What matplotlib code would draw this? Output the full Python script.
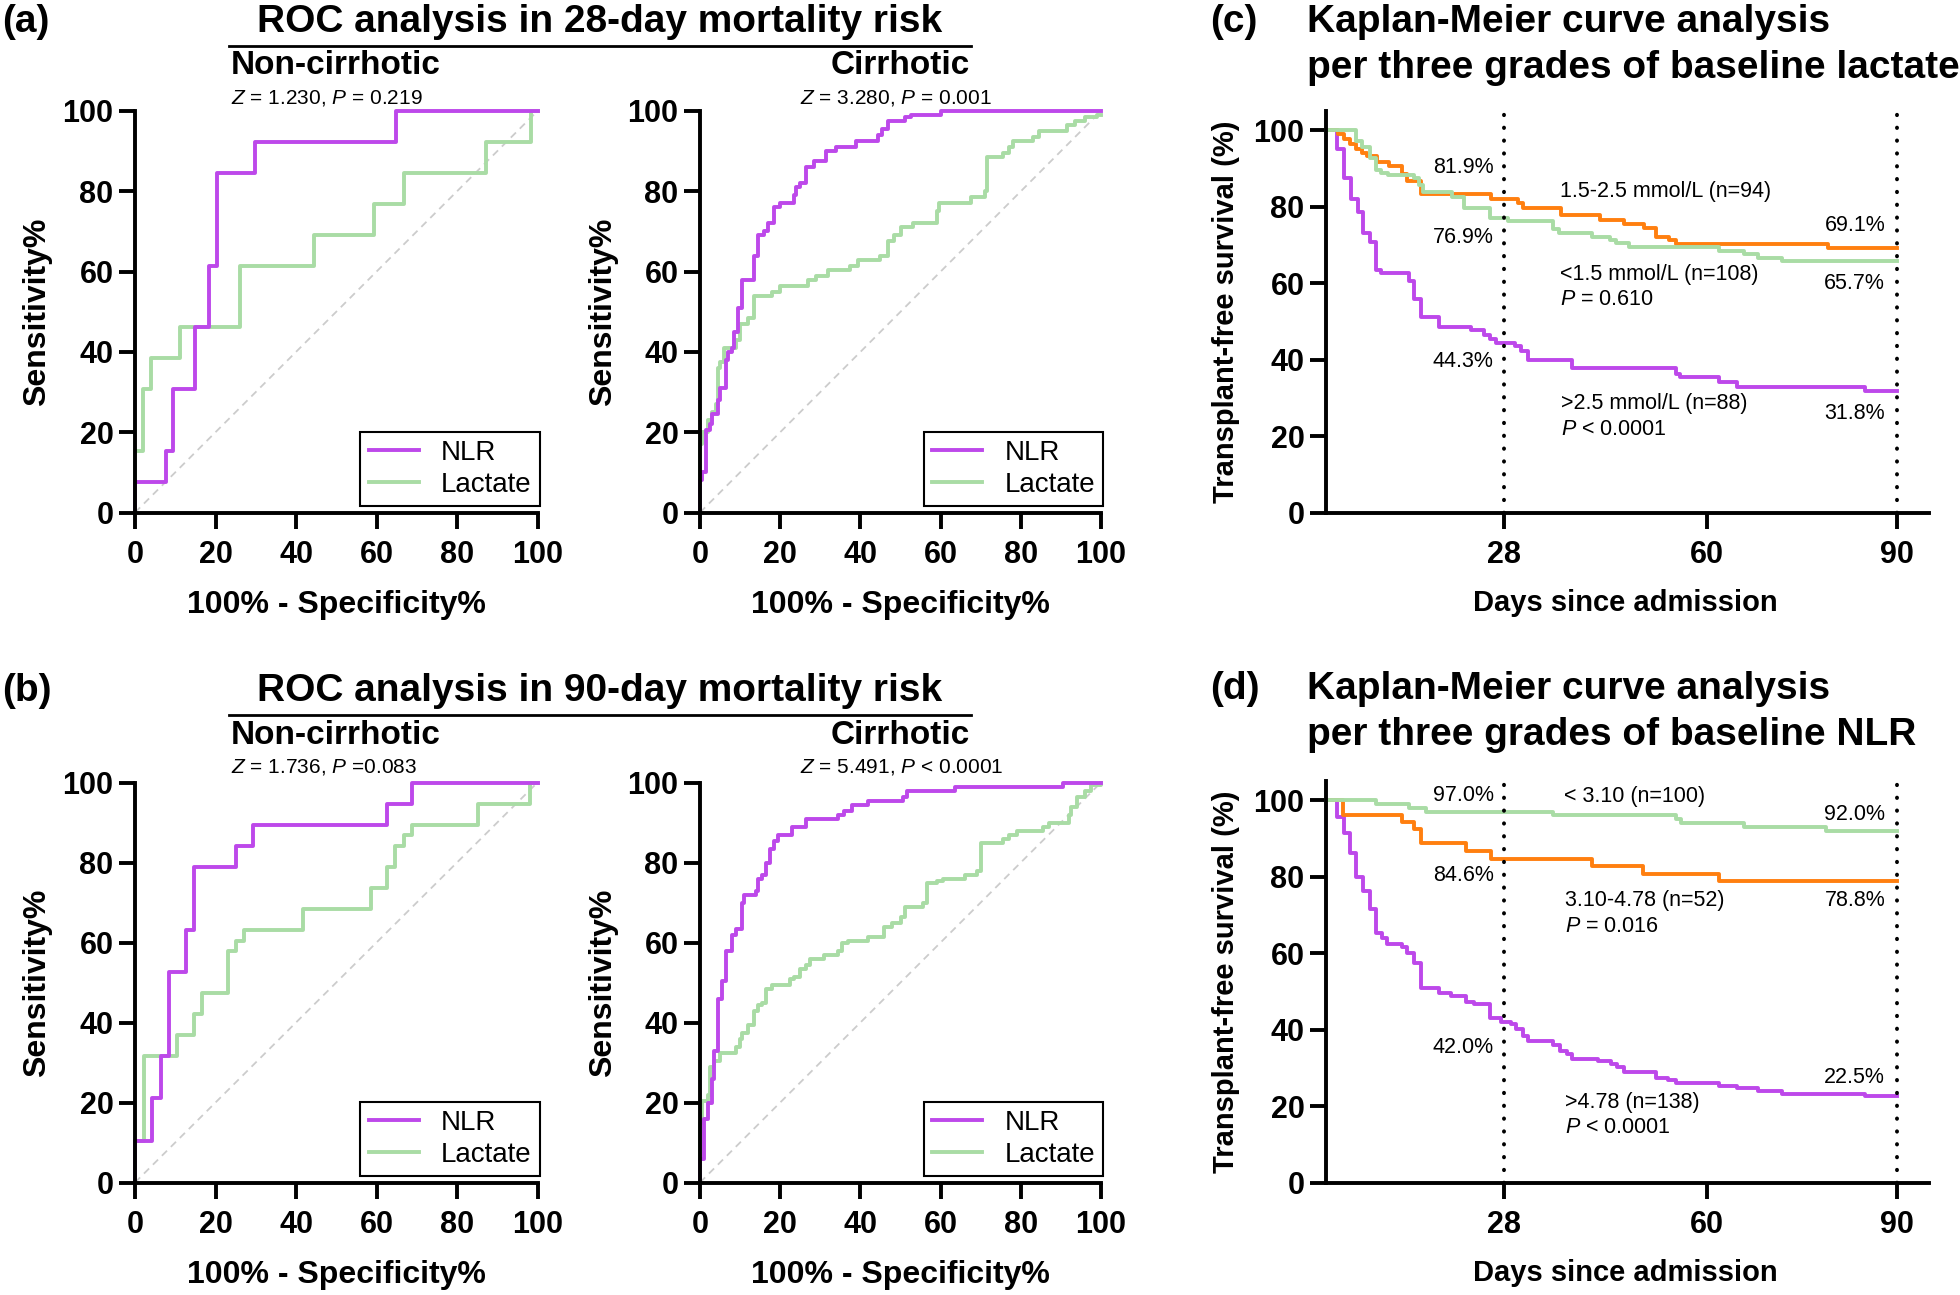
import matplotlib
matplotlib.use('Agg')
import matplotlib.pyplot as plt
from matplotlib.lines import Line2D

plt.rcParams['font.family'] = ['Liberation Sans', 'DejaVu Sans']
plt.rcParams['mathtext.fontset'] = 'custom'
plt.rcParams['mathtext.rm'] = 'Liberation Sans'
plt.rcParams['mathtext.it'] = 'Liberation Sans:italic'

PURPLE = '#BD48EA'
GREEN = '#A9DCA5'
ORANGE = '#FF7F0F'

# ---- ROC data (100% - specificity, sensitivity), step points ----
# (a) 28-day, non-cirrhotic
a_nc_nlr_fpr = [0, 0, 7.6, 9.5, 14.9, 18.5, 20.4, 29.8, 64.9, 100]
a_nc_nlr_tpr = [0, 7.7, 15.4, 30.8, 46.2, 61.5, 84.6, 92.3, 100, 100]
a_nc_lac_fpr = [0, 0, 2, 4, 11.3, 26.2, 44.4, 59.4, 66.8, 87.1, 98.4, 100]
a_nc_lac_tpr = [0, 15.4, 30.8, 38.5, 46.2, 61.5, 69.2, 76.9, 84.6, 92.3, 100, 100]
# (a) 28-day, cirrhotic
a_c_nlr_fpr = [0, 0, 0.5, 1.5, 2.5, 3, 4.5, 5, 6.5, 7, 8, 8.5, 9.5, 10.5, 13.5, 14.5, 16, 17,
               18.5, 20, 23.5, 24, 25, 26.5, 28.5, 31.5, 34, 39, 44.5, 45.5, 47, 51, 52.5, 60, 100]
a_c_nlr_tpr = [0, 8, 10, 20.5, 22, 24.5, 28, 31, 38, 40, 41, 45, 51, 58, 64, 69, 70, 72,
               76, 77, 79, 81, 82, 86, 87.5, 90, 91, 92.5, 94, 95.5, 97.5, 98.5, 99, 100, 100]
a_c_lac_fpr = [0, 0, 0.5, 2, 3, 4, 4.5, 5, 6, 9, 10, 12, 13.5, 18, 20, 27, 29, 32, 37.5, 39.5,
               45, 47, 48.5, 50, 53, 59, 59.5, 67.5, 71, 71.5, 75.5, 77, 78, 83, 84.5, 91.5,
               93.5, 96, 99, 100]
a_c_lac_tpr = [0, 17, 20, 23, 25, 27, 36, 37.5, 41, 43, 47, 48.5, 54, 55, 56.5, 58, 59, 60.5,
               61.5, 63, 64, 67.5, 69, 71, 72, 75, 77, 78.5, 80, 88.5, 89.5, 91, 92.5, 93.5,
               95, 96.5, 97.5, 98.5, 99, 99]
# (b) 90-day, non-cirrhotic
b_nc_nlr_fpr = [0, 0, 4.3, 6.4, 8.4, 12.6, 14.7, 25.2, 29.3, 62.7, 68.9, 100]
b_nc_nlr_tpr = [0, 10.5, 21.1, 31.6, 52.6, 63.2, 78.9, 84.2, 89.5, 94.7, 100, 100]
b_nc_lac_fpr = [0, 0, 2.2, 10.4, 14.7, 16.7, 23.1, 25.2, 27, 41.8, 58.7, 62.7, 64.7, 66.8,
                68.9, 85.3, 98.2, 100]
b_nc_lac_tpr = [0, 10.5, 31.6, 36.8, 42.1, 47.4, 57.9, 60.5, 63.2, 68.4, 73.7, 78.9, 84.2,
                86.8, 89.5, 94.7, 100, 100]
# (b) 90-day, cirrhotic
b_c_nlr_fpr = [0, 0, 1, 2, 3, 3.5, 4.5, 5.5, 6.5, 8, 9, 10.5, 11, 14, 14.5, 15.5, 16.5, 17.5,
               18.5, 19.5, 23, 26.5, 34.5, 36, 38, 42, 50.5, 51.5, 63.5, 90.5, 100]
b_c_nlr_tpr = [0, 6, 16, 20, 26, 33, 46, 50.5, 58, 62, 63.5, 70, 72, 73, 76, 77, 80, 83.5,
               85.5, 87, 89, 91, 92, 93, 94.5, 95.5, 96.5, 98, 99, 100, 100]
b_c_lac_fpr = [0, 0, 0.5, 2, 2.5, 3.5, 5, 9, 10, 10.5, 12, 13.5, 14.5, 15.5, 16.5, 18, 22.5,
               23.5, 25, 26.5, 27.5, 31, 34.5, 35.5, 37, 42, 46, 48, 50, 51, 55.5, 56.5, 59,
               60.5, 66, 69, 70, 75.5, 77, 79, 85.5, 87, 92, 92.5, 94, 96, 97.5, 100]
b_c_lac_tpr = [0, 15, 20.5, 22, 29, 30.5, 32.5, 34, 36, 37.5, 39.5, 43, 44.5, 45, 48.5, 49.5,
               51, 51.5, 53.5, 54.5, 56, 57, 58, 60, 60.5, 61.5, 64, 65, 66.5, 69, 70, 75,
               75.5, 76, 77, 78, 85, 86, 87, 88, 89, 90, 92, 94, 96.5, 98, 99.5, 100]

# ---- Kaplan-Meier data (days, survival %) ----
# (c) lactate grades
c_high_t = [0, 1.8, 2.8, 4.0, 5.0, 5.9, 6.9, 7.8, 8.6, 13.0, 13.8, 14.9, 17.8, 22.8, 24.9,
            25.8, 26.8, 29.8, 30.7, 31.9, 38.8, 55.1, 55.8, 61.9, 64.8, 84.9, 90]
c_high_s = [100, 95, 87.4, 82, 78.6, 73, 70.7, 63.5, 62.6, 60.4, 55.9, 51.1, 48.6, 47.7, 46.4,
            45.3, 44.4, 43.5, 42.2, 39.9, 37.7, 36.3, 35.3, 34, 32.9, 31.8, 31.8]
c_mid_t = [0, 1.9, 2.9, 3.8, 4.7, 5.7, 6.5, 8.0, 9.9, 11.9, 12.8, 14.9, 26.0, 30.2, 31.0,
           37.1, 43.2, 47.0, 50.1, 52.0, 54.1, 55.1, 79.1, 90]
c_mid_s = [100, 98.9, 97.6, 96.4, 95, 94, 93.2, 91.6, 90.5, 88.6, 86.8, 83.2, 81.9, 80.8,
           79.7, 77.7, 76.6, 75.5, 74.3, 72.1, 71.2, 70.2, 69.1, 69.1]
c_low_t = [0, 4.7, 5.7, 7.0, 7.8, 8.6, 9.7, 13.8, 14.7, 15.3, 19.9, 21.8, 25.8, 28.7, 35.8,
           36.7, 41.9, 44.7, 45.7, 47.8, 61.9, 65.8, 68.1, 71.9, 90]
c_low_s = [100, 97, 95.5, 92.8, 89.6, 88.7, 88.3, 87.4, 85.6, 83.8, 82.6, 79.5, 76.9, 76.1,
           74.1, 73.2, 72.1, 71.2, 70.5, 69.5, 68.5, 67.6, 66.5, 65.7, 65.7]
# (d) NLR grades
d_low_t = [0, 7.8, 13.0, 15.8, 35.8, 55.2, 56.0, 65.9, 78.8, 90]
d_low_s = [100, 99.1, 98, 97, 96.2, 95, 94, 93.1, 92, 92]
d_mid_t = [0, 2.7, 11.9, 13.8, 14.9, 22.0, 26.0, 41.9, 49.9, 61.9, 90]
d_mid_s = [100, 96.2, 94.3, 92.5, 88.7, 86.8, 84.6, 82.7, 80.8, 78.8, 78.8]
d_high_t = [0, 1.8, 2.8, 3.8, 4.8, 5.9, 6.9, 7.8, 8.8, 9.6, 11.9, 12.8, 13.8, 14.9, 17.8,
            19.7, 22.0, 23.3, 25.8, 27.5, 29.1, 30.0, 31.0, 31.9, 35.8, 36.8, 37.9, 38.8,
            42.8, 44.9, 45.9, 47.0, 52.0, 53.9, 55.2, 61.9, 64.8, 68.1, 71.9, 84.9, 90]
d_high_s = [100, 95.5, 91.5, 86.3, 79.9, 76.3, 71.6, 65.2, 64, 62.5, 61.6, 60.1, 57.4, 50.9,
            49.6, 48.8, 47.3, 46.6, 42.9, 42.0, 41.5, 40.2, 38.4, 37.1, 36, 34.4, 33.5, 32.4,
            31.7, 31, 30.1, 29, 27.4, 26.8, 26.1, 25.3, 24.6, 23.8, 23.2, 22.5, 22.5]

W, H = 1960, 1295
fig = plt.figure(figsize=(W / 100, H / 100), dpi=100)


def rect(left, top, right, bottom):
    return [left / W, 1 - bottom / H, (right - left) / W, (bottom - top) / H]


def ftext(x, y, s, **kw):
    fig.text(x / W, 1 - y / H, s, va='center', **kw)


def style_axes(ax, labelsize=22):
    for side in ['top', 'right']:
        ax.spines[side].set_visible(False)
    for side in ['left', 'bottom']:
        ax.spines[side].set_linewidth(2.8)
    ax.tick_params(direction='out', length=11.5, width=2.8, labelsize=labelsize, pad=4)
    ax.tick_params(axis='x', pad=8)
    for lbl in ax.get_xticklabels() + ax.get_yticklabels():
        lbl.set_fontweight('bold')


def roc_panel(ax, nlr_x, nlr_y, lac_x, lac_y):
    ax.plot([0, 100], [0, 100], ls=(0, (4, 3)), color='#CCCCCC', lw=1.3)
    lac, = ax.plot(lac_x, lac_y, drawstyle='steps-post', color=GREEN, lw=2.8, clip_on=False)
    nlr, = ax.plot(nlr_x, nlr_y, drawstyle='steps-post', color=PURPLE, lw=2.8, clip_on=False)
    ax.set_xlim(0, 100)
    ax.set_ylim(0, 100)
    ax.set_xticks(range(0, 101, 20))
    ax.set_yticks(range(0, 101, 20))
    style_axes(ax)
    ax.set_xlabel('100% - Specificity%', fontsize=23, fontweight='bold')
    ax.set_ylabel('Sensitivity%', fontsize=23, fontweight='bold')
    ax.xaxis.set_label_coords(0.5, -0.193)
    ax.yaxis.set_label_coords(-0.205, 0.5)
    leg = ax.legend([nlr, lac], ['NLR', 'Lactate'], loc='lower right',
                    bbox_to_anchor=(1.006, 0.016), fancybox=False, edgecolor='black',
                    framealpha=1, fontsize=20, handlelength=1.8, handletextpad=0.8,
                    labelspacing=0.2, borderpad=0.3, borderaxespad=0)
    leg.get_frame().set_linewidth(1.5)


def km_panel(ax, curves, notes):
    for t, s, c in curves:
        ax.plot(t, s, drawstyle='steps-post', color=c, lw=2.8, clip_on=False)
    for day in (28, 90):
        ax.axvline(day, color='black', ls=(0, (0.1, 3.2)), lw=2.8, dash_capstyle='round')
    ax.set_xlim(0, 95)
    ax.set_ylim(0, 105)
    ax.set_xticks([28, 60, 90])
    ax.set_yticks(range(0, 101, 20))
    style_axes(ax)
    ax.set_xlabel('Days since admission', fontsize=21, fontweight='bold')
    ax.set_ylabel('Transplant-free survival (%)', fontsize=21, fontweight='bold')
    ax.xaxis.set_label_coords(0.496, -0.19)
    ax.yaxis.set_label_coords(-0.142, 0.5)
    for x, y, s, ha in notes:
        ax.text(x, y, s, ha=ha, va='center', fontsize=15.5)


# ---- ROC panels ----
ax = fig.add_axes(rect(135, 111, 537.5, 512.5))
roc_panel(ax, a_nc_nlr_fpr, a_nc_nlr_tpr, a_nc_lac_fpr, a_nc_lac_tpr)
ax = fig.add_axes(rect(700, 111, 1101, 512.5))
roc_panel(ax, a_c_nlr_fpr, a_c_nlr_tpr, a_c_lac_fpr, a_c_lac_tpr)
ax = fig.add_axes(rect(135, 782.5, 537.5, 1182.5))
roc_panel(ax, b_nc_nlr_fpr, b_nc_nlr_tpr, b_nc_lac_fpr, b_nc_lac_tpr)
ax = fig.add_axes(rect(700, 782.5, 1101, 1182.5))
roc_panel(ax, b_c_nlr_fpr, b_c_nlr_tpr, b_c_lac_fpr, b_c_lac_tpr)

# headers of the ROC panels
for lab, title, y0, z1, z2 in [
        ('(a)', 'ROC analysis in 28-day mortality risk', 22,
         r'$\it{Z}$ = 1.230, $\it{P}$ = 0.219', r'$\it{Z}$ = 3.280, $\it{P}$ = 0.001'),
        ('(b)', 'ROC analysis in 90-day mortality risk', 691,
         r'$\it{Z}$ = 1.736, $\it{P}$ =0.083', r'$\it{Z}$ = 5.491, $\it{P}$ < 0.0001')]:
    ftext(2, y0, lab, fontsize=28, fontweight='bold')
    ftext(600, y0, title, ha='center', fontsize=28, fontweight='bold')
    fig.add_artist(Line2D([229 / W, 971 / W], [1 - (y0 + 24) / H] * 2, color='black', lw=2))
    ftext(231, y0 + 44, 'Non-cirrhotic', fontsize=24, fontweight='bold')
    ftext(970, y0 + 44, 'Cirrhotic', ha='right', fontsize=24, fontweight='bold')
    ftext(231, y0 + 76, z1, fontsize=15)
    ftext(800, y0 + 76, z2, fontsize=15)

# ---- KM panels ----
ax = fig.add_axes(rect(1326, 110.9, 1929, 512.5))
km_panel(ax, [(c_high_t, c_high_s, PURPLE), (c_mid_t, c_mid_s, ORANGE), (c_low_t, c_low_s, GREEN)],
         [(26.4, 90.1, '81.9%', 'right'), (26.4, 71.8, '76.9%', 'right'),
          (26.4, 39.6, '44.3%', 'right'),
          (36.9, 84.0, '1.5-2.5 mmol/L (n=94)', 'left'),
          (36.9, 62.3, '<1.5 mmol/L (n=108)', 'left'),
          (36.9, 55.6, r'$\it{P}$ = 0.610', 'left'),
          (37.1, 28.6, '>2.5 mmol/L (n=88)', 'left'),
          (37.1, 21.8, r'$\it{P}$ < 0.0001', 'left'),
          (88.1, 75.0, '69.1%', 'right'), (88.1, 59.9, '65.7%', 'right'),
          (88.1, 25.9, '31.8%', 'right')])
ax = fig.add_axes(rect(1326, 781, 1929, 1182.5))
km_panel(ax, [(d_high_t, d_high_s, PURPLE), (d_mid_t, d_mid_s, ORANGE), (d_low_t, d_low_s, GREEN)],
         [(26.4, 101.2, '97.0%', 'right'), (26.4, 80.4, '84.6%', 'right'),
          (26.4, 35.4, '42.0%', 'right'),
          (37.5, 100.9, '< 3.10 (n=100)', 'left'),
          (37.6, 73.7, '3.10-4.78 (n=52)', 'left'),
          (37.6, 67.0, r'$\it{P}$ = 0.016', 'left'),
          (37.6, 21.0, '>4.78 (n=138)', 'left'),
          (37.6, 14.3, r'$\it{P}$ < 0.0001', 'left'),
          (88.1, 96.2, '92.0%', 'right'), (88.1, 73.7, '78.8%', 'right'),
          (88.1, 27.4, '22.5%', 'right')])

for lab, y0, line2 in [('(c)', 22, 'per three grades of baseline lactate'),
                       ('(d)', 689, 'per three grades of baseline NLR')]:
    ftext(1210, y0, lab, fontsize=28, fontweight='bold')
    ftext(1307, y0, 'Kaplan-Meier curve analysis', fontsize=28, fontweight='bold')
    ftext(1307, y0 + 46, line2, fontsize=28, fontweight='bold')

fig.savefig('out.png', dpi=100)
